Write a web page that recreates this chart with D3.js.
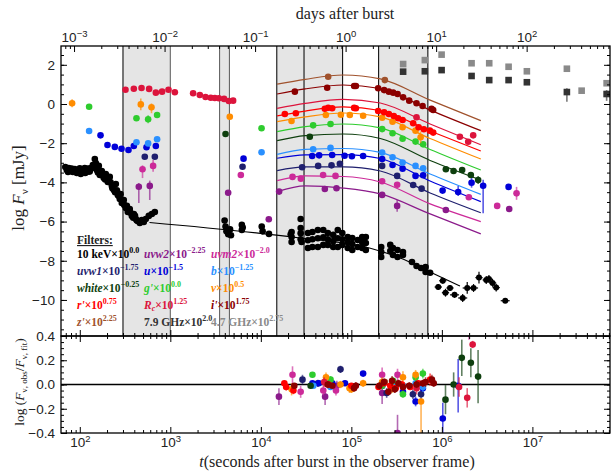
<!DOCTYPE html>
<html>
<head>
  <meta charset="utf-8">
  <title>Afterglow light curve</title>
  <script src="https://d3js.org/d3.v7.min.js"></script>
  <style>
    body { margin: 0; background: #fff; }
    svg { font-family: "Liberation Serif", "DejaVu Serif", serif; }
  </style>
</head>
<body>
<div id="chart"></div>
<script>

// ---- data (log10 t [s], log10 F [mJy], optional err down, err up) ----

const xrayEarly = [
  [1.856,-3.37],[1.878,-3.27],[1.901,-3.42],[1.923,-3.47],[1.945,-3.32],[1.967,-3.52],[1.989,-3.37],[2.011,-3.57],
  [2.033,-3.42],[2.055,-3.27],[2.077,-3.47],[2.099,-3.37],[2.122,-3.27],[2.144,-3.11],[2.166,-2.81],[2.177,-3.01],
  [2.188,-3.37],[2.210,-3.16],[2.221,-3.62],[2.243,-3.42],[2.265,-3.78],[2.287,-3.57],[2.309,-3.98],[2.331,-3.72],
  [2.354,-4.18],[2.376,-4.39],[2.398,-4.08],[2.420,-4.64],[2.442,-4.85],[2.464,-5.05],[2.486,-4.90],[2.508,-5.31],
  [2.530,-5.51],[2.552,-5.36],[2.575,-5.71],[2.597,-5.61],[2.619,-5.87],[2.641,-5.97],[2.663,-6.07],[2.685,-5.92],
  [2.707,-6.02],[2.729,-5.87],[2.762,-5.71],[2.796,-5.61],[2.829,-5.51],
  [1.84,-3.22],[1.87,-3.47],[1.91,-3.30],[1.96,-3.40],[2.00,-3.28],[2.02,-3.47],[2.06,-3.52],[2.09,-3.30],
  [2.11,-3.45],[2.15,-3.25],[2.20,-3.50],[2.25,-3.65],[2.28,-3.85],[2.32,-3.90],[2.34,-4.00],[2.36,-4.30],
  [2.39,-4.50],[2.41,-4.40],[2.43,-4.70],[2.45,-4.60],[2.47,-4.95],[2.49,-5.15],[2.52,-5.20],[2.54,-5.45],
  [2.56,-5.55],[2.59,-5.80],[2.61,-5.70],[2.63,-5.95]
];
const xrayMid = [
  [3.60,-5.95],[3.61,-6.25],[3.62,-6.50],[3.64,-6.65],[3.66,-6.40],[3.67,-6.70],
  [3.79,-6.17],[3.79,-6.43],[3.80,-6.30],[4.01,-6.25],[4.02,-6.50],[4.09,-6.63],
  [4.33,-6.65],[4.34,-6.53],[4.34,-6.79],[4.34,-7.04],[4.44,-5.87],[4.44,-6.33],[4.44,-6.60],[4.44,-6.90],[4.45,-7.04],
  [4.52,-6.58],[4.52,-6.95],[4.52,-7.35],[4.57,-6.53],[4.57,-6.90],[4.57,-7.30],[4.63,-6.43],[4.63,-6.85],[4.63,-7.30],
  [4.69,-6.43],[4.69,-6.80],[4.69,-7.19],[4.74,-6.58],[4.74,-6.90],[4.74,-7.19],[4.80,-6.68],[4.80,-7.00],[4.80,-7.30],
  [4.85,-6.43],[4.85,-6.85],[4.85,-7.30],[4.90,-6.58],[4.90,-6.90],[4.90,-7.19],[4.96,-6.79],[4.96,-7.05],[4.96,-7.35],
  [5.01,-6.84],[5.01,-7.15],[5.01,-7.45],[5.07,-6.94],[5.07,-7.30],[5.12,-6.79],[5.12,-7.05],[5.12,-7.35],
  [5.16,-6.79],[5.16,-7.10],[5.16,-7.45],
  [5.33,-7.30],[5.33,-7.55],[5.33,-7.81],[5.43,-7.19],[5.43,-7.50],[5.46,-7.35],[5.46,-7.70],[5.51,-7.45],[5.51,-7.81],
  [5.57,-7.55],[5.57,-7.70],[5.67,-8.06],[5.72,-8.27],[5.77,-8.37],[5.82,-8.32],[5.82,-8.57],[5.87,-8.61]
];
// late X-ray: log t, log F, x-err (dex), y-err (dex)
const xrayLate = [
  [5.96,-9.34,0.04,0.15],[6.01,-9.02,0.04,0.15],[6.04,-9.63,0.04,0.2],[6.09,-9.39,0.04,0.15],[6.14,-9.74,0.05,0.15],
  [6.23,-9.90,0.05,0.2],[6.28,-9.39,0.05,0.3],[6.35,-9.39,0.05,0.2],[6.41,-8.86,0.04,0.3],[6.49,-8.98,0.04,0.2],
  [6.52,-8.93,0.04,0.2],[6.56,-9.13,0.04,0.2],[6.60,-9.37,0.04,0.2],[6.70,-10.04,0.05,0.1]
];

const uvw2Data = [[2.652,-4.22,0.83,0.19],[2.773,-4.18,0.72,0.27],[3.639,-4.53],[4.088,-5.88],[4.202,-4.47],[4.707,-4.34],
  [4.836,-4.30],[5.340,-4.64],[5.506,-5.20,0.3,0.3],[6.044,-5.41],[6.744,-5.36]];
const uvm2Data = [[2.693,-3.33,0.45,0.2],[2.810,-3.16,0.3,0.3],[3.779,-3.62],[4.350,-3.72],[4.442,-3.81],[4.688,-3.62],
  [4.825,-3.67],[5.340,-3.94],[5.506,-4.12],[6.298,-4.76],[6.611,-5.20],[6.825,-4.56,0.33,0.33]];
const uvw1Data = [[2.718,-2.69],[2.829,-2.69],[3.798,-3.20],[4.456,-3.23],[4.633,-3.16],[4.781,-3.13],[4.873,-3.05],
  [5.340,-3.16],[5.506,-3.67],[5.683,-4.13],[5.776,-4.32]];
const uData = [[2.229,-1.60],[2.306,-2.09],[2.387,-2.19],[2.461,-2.28],[2.538,-2.35],[2.597,-2.14],[2.737,-2.21],
  [2.840,-2.14],[3.809,-2.79],[4.567,-2.65],[4.644,-2.62],[4.788,-2.60],[4.925,-2.64],[5.006,-2.67],[5.130,-2.65],
  [5.340,-2.81],[5.455,-3.11],[5.566,-3.30],[5.709,-3.67],[5.793,-3.64],[6.008,-4.42],[6.180,-4.49,0.2,0.3],
  [6.328,-4.02,0.25,0.25],[6.456,-4.17,1.4,0.3],[6.737,-4.23]];
const bData = [[2.103,-1.38],[2.626,-1.95],[2.755,-2.01],[2.854,-1.80],[4.008,-2.46],[4.578,-2.31],[4.770,-2.24],
  [5.340,-2.48],[5.455,-2.72],[5.566,-2.99],[5.709,-3.16],[5.793,-3.28]];
const whiteData = [[3.610,-1.53],[4.541,-1.67],[6.044,-3.33],[6.129,-3.42],[6.224,-3.37],[6.320,-3.62],[6.401,-3.88,0.2,0.2]];
const gData = [[2.103,-0.14],[2.626,-0.73],[2.755,-0.78,0.2,0.2],[2.854,-0.56],[4.008,-1.24],[4.578,-1.09],[4.770,-1.02],
  [5.340,-1.28],[5.455,-1.49],[5.566,-1.77],[5.709,-1.92],[5.793,-2.06]];
const vData = [[1.915,0.04,0.2,0.2],[2.674,-0.02,0.3,0.3],[2.792,-0.17,0.3,0.2],[3.657,-0.65],[4.339,-0.87],[4.718,-0.56],
  [4.884,-0.55],[4.983,-0.56],[5.130,-0.60],[5.340,-0.70],[5.455,-0.90],[5.566,-1.19],[5.709,-1.36],[5.765,-1.70,0.3,0.3]];
const rData = [[4.265,-0.51],[4.387,-0.47],[4.707,-0.24],[4.744,-0.19],[4.788,-0.22],[5.031,-0.20],[5.050,-0.22],
  [5.296,-0.36],[5.362,-0.42],[5.414,-0.51],[5.469,-0.61],[5.517,-0.73],[5.566,-0.82],[5.683,-0.98],[5.743,-1.19],
  [5.801,-1.29],[5.867,-1.36],[5.904,-1.46]];
const rcData = [[2.505,0.73],[2.597,0.78],[2.682,0.82],[2.766,0.77],[2.840,0.58],[2.909,0.63],[2.980,0.73],[3.050,0.60],
  [3.252,0.55],[3.326,0.46],[3.389,0.36],[3.447,0.32],[3.492,0.31],[3.536,0.29],[3.594,0.26],[3.646,0.15],[3.694,0.17],
  [5.720,-0.68],[6.199,-1.67],[6.291,-1.93],[6.346,-1.60]];
const iData = [[4.376,0.63],[4.733,0.83],[5.031,0.92],[5.050,0.92],[5.296,0.80],[5.362,0.71],[5.414,0.63],[5.462,0.58],
  [5.511,0.51],[5.572,0.34],[5.639,0.17],[5.720,0.04],[5.787,-0.10],[5.886,-0.25],[5.904,-0.31]];
const zData = [[4.744,1.39],[5.370,1.22]];
const radio79 = [[5.572,1.65],[5.812,1.67],[5.997,1.73],[6.328,1.43],[6.523,1.22],[6.737,1.22],[6.939,1.11],
  [7.381,0.61,0.5,0.2],[7.820,0.51,0.35,0.2]];
const radio47 = [[5.572,2.04],[5.812,2.24],[5.997,2.52],[6.328,2.08],[6.523,2.08],[6.737,1.90],[6.939,1.67],
  [7.381,1.80],[7.544,0.68],[7.820,1.06]];

// model curves (knots)
const modelT = [4.18, 4.49, 4.91, 5.32, 5.87, 6.43];
const modelZ = [1.01, 1.26, 1.48, 1.28, 0.20, -0.85];
const modelI = [0.51, 0.77, 0.97, 0.79, -0.31, -1.36];
const modelRc = [-0.22, 0.03, 0.24, 0.05, -1.02, -2.08];
const modelR = [-0.61, -0.36, -0.15, -0.33, -1.38, -2.40];
const modelV = [-0.90, -0.66, -0.46, -0.66, -1.76, -2.81];
const modelG = [-1.41, -1.15, -1.02, -1.22, -2.32, -3.37];
const modelWhite = [-1.87, -1.61, -1.53, -1.76, -2.88, -3.88];
const modelB = [-2.57, -2.32, -2.27, -2.47, -3.57, -4.61];
const modelU = [-2.77, -2.60, -2.58, -2.78, -3.93, -4.98];
const modelUvw1 = [-3.40, -3.21, -3.21, -3.42, -4.54, -5.55];
const modelUvm2 = [-3.91, -3.67, -3.70, -3.98, -5.10, -6.00];
const modelUvw2 = [-4.47, -4.18, -4.29, -4.59, -5.61, -6.63];
const xrayModelT = [2.77, 4.43, 5.20, 5.54, 5.87, 6.20];
const xrayModelF = [-6.05, -6.84, -7.35, -7.86, -8.57, -9.29];

// residuals: log t, residual, err down, err up
const resR = [[4.26,0.01,0.02],[4.28,-0.02,0.03],[4.36,-0.05,0.03],[4.75,0.00,0.02],[5.00,-0.01,0.02],[5.30,-0.02,0.02],
  [5.36,0.01,0.02],[5.43,-0.01,0.02],[5.49,-0.03,0.02],[5.56,0.00,0.03],[5.65,-0.02,0.02],[5.74,0.01,0.02],[5.87,0.04,0.05]];
const resI = [[4.37,-0.01,0.02],[4.74,0.00,0.03],[4.79,-0.01,0.02],[5.03,-0.03,0.03],[5.05,-0.01,0.03],[5.31,-0.01,0.03],
  [5.36,0.02,0.03],[5.41,-0.06,0.03],[5.45,0.03,0.04],[5.48,-0.04,0.03],[5.52,0.01,0.03],[5.57,-0.02,0.03],
  [5.64,-0.01,0.03],[5.72,0.00,0.03],[5.79,0.01,0.03],[5.82,0.02,0.04],[5.89,0.04,0.04],[5.91,0.01,0.03]];
const resZ = [[4.74,0.00,0.02],[5.37,0.02,0.03]];
const resRc = [[4.70,0.02,0.04],[5.72,-0.03,0.05],[6.19,-0.02,0.08],[6.28,-0.11,0.08],[6.34,0.33,0.03]];
const resV = [[4.34,-0.04,0.05],[4.72,0.06,0.04],[4.88,0.00,0.03],[4.98,-0.03,0.04],[5.00,-0.04,0.03],[5.13,0.01,0.03],
  [5.34,0.02,0.04],[5.45,-0.03,0.04],[5.57,0.06,0.05],[5.71,0.08,0.04],[5.77,-0.14,0.28,0.02]];
const resG = [[4.57,0.08,0.02],[4.77,0.04,0.03],[5.34,-0.01,0.03],[5.46,0.03,0.03],[5.57,-0.08,0.03],[5.71,0.06,0.04],[5.79,0.09,0.04]];
const resWhite = [[4.55,-0.01,0.02],[6.04,-0.125,0.12],[6.13,0.00,0.10],[6.22,0.22,0.15],[6.32,0.18,0.12],[6.40,0.065,0.22]];
const resB = [[4.58,-0.01,0.02],[4.77,-0.02,0.02],[5.34,0.00,0.02],[5.46,0.01,0.03],[5.57,-0.01,0.03],[5.71,0.01,0.03],[5.79,-0.02,0.04]];
const resU = [[4.57,0.01,0.02],[4.64,0.01,0.02],[4.79,0.01,0.02],[4.93,0.01,0.02],[5.13,0.09,0.02],[5.34,-0.01,0.02],
  [5.46,0.00,0.03],[5.57,-0.06,0.03],[5.71,-0.14,0.04],[5.79,-0.03,0.03],[6.01,-0.28,0.13],[6.18,-0.01,0.22]];
const resUvw1 = [[4.46,0.04,0.04],[4.63,0.01,0.03],[4.78,0.00,0.03],[4.88,0.125,0.03],[5.34,-0.01,0.03],[5.39,-0.07,0.04],
  [5.68,-0.08,0.04],[5.77,-0.08,0.04]];
const resUvm2 = [[4.35,0.08,0.07],[4.44,-0.06,0.05],[4.69,-0.05,0.04],[4.83,-0.05,0.04],[5.34,0.08,0.06],[5.51,0.08,0.05],[6.30,0.45,0.08]];
const resUvw2 = [[4.20,-0.10,0.07],[4.71,-0.10,0.07],[4.84,-0.01,0.04],[5.34,-0.07,0.09],[5.51,-0.40,0.15]];

// shaded observing windows and their edges (seconds)
const windows = [[300,1000],[3500,4500],[15000,80000],[200000,700000]];
const windowEdges = [300,1000,3500,4500,15000,30000,80000,200000,700000];

// tick labels
const secTicks = [1e2,1e3,1e4,1e5,1e6,1e7];
const dayTicks = [1e-3,1e-2,1e-1,1,10,100];
const fluxTicks = [-10,-8,-6,-4,-2,0,2];
const resTicks = [-0.4,-0.2,0,0.2,0.4];

// legend
const filterNames = ["10 keV","uvw2","uvm2","uvw1","u","b","white","g'","v","r'","Rc","i'","z'","7.9 GHz","4.7 GHz"];
const filterScales = ["0.0","−2.25","−2.0","−1.75","−1.5","−1.25","−0.25","0.0","0.5","0.75","1.25","1.75","2.25","2.0","2.75"];
const filterKeys = ["xray","uvw2","uvm2","uvw1","u","b","white","g","v","r","Rc","i","z","r79","r47"];

const colors = {
  xray: "#000000", uvw2: "#8b1a8b", uvm2: "#cc2a99", uvw1: "#1f1f6e", u: "#0000d8", b: "#2a90ff",
  white: "#0e3f0e", g: "#2ecc2e", v: "#ff8c00", r: "#ff0000", Rc: "#dc143c", i: "#8b0000", z: "#a0522d",
  r79: "#333333", r47: "#8a8a8a"
};

// ---- layout ----
const W = 611, H = 475;
const L0 = 61, R0 = 610, T0 = 46, M0 = 336, B0 = 433;

const svg = d3.select("#chart").append("svg").attr("width", W).attr("height", H);

const x = d3.scaleLog().domain([62, 7.2e7]).range([L0, R0]);
const xDays = d3.scaleLog().domain([62 / 86400, 7.2e7 / 86400]).range([L0, R0]);
const y = d3.scaleLinear().domain([-11.84, 2.96]).range([M0, T0]);
const yRes = d3.scaleLinear().domain([-0.4, 0.4]).range([B0, M0]);
const T = l => Math.pow(10, l);

const defs = svg.append("defs");
defs.append("clipPath").attr("id", "clipTop").append("rect")
  .attr("x", L0).attr("y", T0).attr("width", R0 - L0).attr("height", M0 - T0);
defs.append("clipPath").attr("id", "clipBot").append("rect")
  .attr("x", L0).attr("y", M0).attr("width", R0 - L0).attr("height", B0 - M0);

const gTop = svg.append("g").attr("clip-path", "url(#clipTop)");
const gBot = svg.append("g").attr("clip-path", "url(#clipBot)");

// shaded windows
gTop.selectAll("rect.win").data(windows).join("rect")
  .attr("x", d => x(d[0])).attr("y", T0)
  .attr("width", d => x(d[1]) - x(d[0])).attr("height", M0 - T0)
  .attr("fill", "#e5e5e5");
gTop.selectAll("line.edge").data(windowEdges).join("line")
  .attr("x1", d => x(d)).attr("x2", d => x(d)).attr("y1", T0).attr("y2", M0)
  .attr("stroke", d => (d === 1000 || d === 3500 || d === 4500) ? "#666" : "#111")
  .attr("stroke-width", 1.1);

// model lines
const line = d3.line().x(d => x(T(d[0]))).y(d => y(d[1])).curve(d3.curveMonotoneX);
const models = [
  ["z", modelZ], ["i", modelI], ["Rc", modelRc], ["r", modelR], ["v", modelV], ["g", modelG],
  ["white", modelWhite], ["b", modelB], ["u", modelU], ["uvw1", modelUvw1], ["uvm2", modelUvm2], ["uvw2", modelUvw2]
];
models.forEach(([k, vals]) => {
  gTop.append("path").datum(modelT.map((t, j) => [t, vals[j]]))
    .attr("fill", "none").attr("stroke", colors[k]).attr("stroke-width", 1.2).attr("d", line);
});
gTop.append("path").datum(xrayModelT.map((t, j) => [t, xrayModelF[j]]))
  .attr("fill", "none").attr("stroke", "#000").attr("stroke-width", 1.1).attr("d", line);

// data points with error bars
function drawPoints(g, data, color, ys, shape) {
  const withErr = data.filter(d => d.length > 2);
  g.selectAll(null).data(withErr).join("line")
    .attr("x1", d => x(T(d[0]))).attr("x2", d => x(T(d[0])))
    .attr("y1", d => ys(d[1] - d[2])).attr("y2", d => ys(d[1] + (d[3] !== undefined ? d[3] : d[2])))
    .attr("stroke", color).attr("stroke-width", 1.6).attr("opacity", 0.65);
  if (shape === "square") {
    g.selectAll(null).data(data).join("rect")
      .attr("x", d => x(T(d[0])) - 3.3).attr("y", d => ys(d[1]) - 3.3)
      .attr("width", 6.6).attr("height", 6.6).attr("fill", color);
  } else {
    g.selectAll(null).data(data).join("circle")
      .attr("cx", d => x(T(d[0]))).attr("cy", d => ys(d[1]))
      .attr("r", 3.3).attr("fill", color);
  }
}

drawPoints(gTop, radio47, colors.r47, y, "square");
drawPoints(gTop, radio79, colors.r79, y, "square");

drawPoints(gTop, xrayEarly, colors.xray, y);
drawPoints(gTop, xrayMid, colors.xray, y);
gTop.selectAll(null).data(xrayLate).join("line")
  .attr("x1", d => x(T(d[0] - d[2]))).attr("x2", d => x(T(d[0] + d[2])))
  .attr("y1", d => y(d[1])).attr("y2", d => y(d[1])).attr("stroke", "#000").attr("stroke-width", 1.2);
gTop.selectAll(null).data(xrayLate).join("line")
  .attr("x1", d => x(T(d[0]))).attr("x2", d => x(T(d[0])))
  .attr("y1", d => y(d[1] - d[3])).attr("y2", d => y(d[1] + d[3])).attr("stroke", "#000").attr("stroke-width", 1.2);
gTop.selectAll(null).data(xrayLate).join("circle")
  .attr("cx", d => x(T(d[0]))).attr("cy", d => y(d[1])).attr("r", 3).attr("fill", "#000");

const bands = [
  ["uvw2", uvw2Data, resUvw2], ["uvm2", uvm2Data, resUvm2], ["uvw1", uvw1Data, resUvw1], ["u", uData, resU],
  ["b", bData, resB], ["white", whiteData, resWhite], ["g", gData, resG], ["v", vData, resV],
  ["z", zData, resZ], ["Rc", rcData, resRc], ["r", rData, resR], ["i", iData, resI]
];
bands.forEach(([k, d]) => drawPoints(gTop, d, colors[k], y));

// residual panel
gBot.append("line").attr("x1", L0).attr("x2", R0).attr("y1", yRes(0)).attr("y2", yRes(0))
  .attr("stroke", "#000").attr("stroke-width", 1.4);
bands.forEach(([k, , r]) => drawPoints(gBot, r, colors[k], yRes));

// ---- axes ----
function logMinors(scale) {
  const [a, b] = scale.domain(), out = [];
  for (let e = Math.floor(Math.log10(a)); e <= Math.ceil(Math.log10(b)); e++)
    for (let m = 2; m < 10; m++) { const v = m * Math.pow(10, e); if (v >= a && v <= b) out.push(v); }
  return out;
}
function linMinors(scale, step) {
  const [a, b] = scale.domain(), out = [];
  for (let v = Math.ceil(a / step) * step; v <= b + 1e-9; v += step) out.push(+v.toFixed(4));
  return out;
}
function powLabels(g) {
  g.selectAll(".tick text").each(function(d) {
    const e = Math.round(Math.log10(d));
    const t = d3.select(this).text(null);
    t.append("tspan").text("10");
    t.append("tspan").attr("dy", "-0.5em").style("font-size", "9.5px").text(String(e).replace("-", "−"));
  });
}
function tidy(g) {
  g.select(".domain").remove();
  g.selectAll(".tick line").attr("stroke", "#000").attr("stroke-width", 1);
  g.selectAll(".tick text").attr("fill", "#222").style("font-size", "13.5px");
}
function addAxis(axis, tx, ty) {
  return svg.append("g").attr("transform", `translate(${tx},${ty})`).call(axis).call(tidy);
}

// top (days)
addAxis(d3.axisTop(xDays).tickValues(dayTicks).tickSizeInner(-6).tickSizeOuter(0).tickPadding(4), 0, T0).call(powLabels);
addAxis(d3.axisTop(xDays).tickValues(logMinors(xDays)).tickSize(-3).tickFormat(""), 0, T0);
// shared boundary between panels
addAxis(d3.axisBottom(x).tickValues(secTicks).tickSize(-6).tickFormat(""), 0, M0);
addAxis(d3.axisBottom(x).tickValues(logMinors(x)).tickSize(-3).tickFormat(""), 0, M0);
addAxis(d3.axisTop(x).tickValues(secTicks).tickSize(-6).tickFormat(""), 0, M0);
addAxis(d3.axisTop(x).tickValues(logMinors(x)).tickSize(-3).tickFormat(""), 0, M0);
// bottom (seconds)
addAxis(d3.axisBottom(x).tickValues(secTicks).tickSizeInner(-6).tickSizeOuter(0).tickPadding(4), 0, B0).call(powLabels);
addAxis(d3.axisBottom(x).tickValues(logMinors(x)).tickSize(-3).tickFormat(""), 0, B0);
// flux axes
addAxis(d3.axisLeft(y).tickValues(fluxTicks).tickSizeInner(-6).tickSizeOuter(0).tickPadding(6), L0, 0);
addAxis(d3.axisLeft(y).tickValues(linMinors(y, 0.5)).tickSize(-3).tickFormat(""), L0, 0);
addAxis(d3.axisRight(y).tickValues(fluxTicks).tickSize(-6).tickFormat(""), R0, 0);
addAxis(d3.axisRight(y).tickValues(linMinors(y, 0.5)).tickSize(-3).tickFormat(""), R0, 0);
// residual axes
addAxis(d3.axisLeft(yRes).tickValues(resTicks).tickSizeInner(-6).tickSizeOuter(0).tickPadding(6).tickFormat(d3.format(".1f")), L0, 0);
addAxis(d3.axisLeft(yRes).tickValues(linMinors(yRes, 0.05)).tickSize(-3).tickFormat(""), L0, 0);
addAxis(d3.axisRight(yRes).tickValues(resTicks).tickSize(-6).tickFormat(""), R0, 0);
addAxis(d3.axisRight(yRes).tickValues(linMinors(yRes, 0.05)).tickSize(-3).tickFormat(""), R0, 0);

// frames
svg.append("rect").attr("x", L0).attr("y", T0).attr("width", R0 - L0).attr("height", M0 - T0)
  .attr("fill", "none").attr("stroke", "#000").attr("stroke-width", 1.3);
svg.append("rect").attr("x", L0).attr("y", M0).attr("width", R0 - L0).attr("height", B0 - M0)
  .attr("fill", "none").attr("stroke", "#000").attr("stroke-width", 1.3);

// ---- titles ----
svg.append("text").attr("x", 345).attr("y", 19).attr("text-anchor", "middle")
  .style("font-size", "16px").attr("fill", "#222").text("days after burst");

const xt = svg.append("text").attr("x", 337).attr("y", 467).attr("text-anchor", "middle")
  .style("font-size", "16px").attr("fill", "#222");
xt.append("tspan").attr("font-style", "italic").text("t");
xt.append("tspan").text("(seconds after burst in the observer frame)");

const yt = svg.append("text").attr("transform", "translate(24,188) rotate(-90)").attr("text-anchor", "middle")
  .style("font-size", "17px").attr("fill", "#222");
yt.append("tspan").text("log ");
yt.append("tspan").attr("font-style", "italic").text("F");
yt.append("tspan").attr("dy", 4).style("font-size", "11px").text("ν");
yt.append("tspan").attr("dy", -4).text(" [mJy]");

const rt = svg.append("text").attr("transform", "translate(24,382) rotate(-90)").attr("text-anchor", "middle")
  .style("font-size", "13.5px").attr("fill", "#222");
rt.append("tspan").text("log (");
rt.append("tspan").attr("font-style", "italic").text("F");
rt.append("tspan").attr("dy", 3).style("font-size", "9px").text("ν, obs");
rt.append("tspan").attr("dy", -3).text("/");
rt.append("tspan").attr("font-style", "italic").text("F");
rt.append("tspan").attr("dy", 3).style("font-size", "9px").text("ν, fit");
rt.append("tspan").attr("dy", -3).text(")");

// ---- legend ----
const leg = svg.append("g").style("font-size", "11.5px").attr("font-weight", "bold");
leg.append("text").attr("x", 77).attr("y", 244).attr("fill", "#222")
  .style("text-decoration", "underline").text("Filters:");
filterNames.forEach((name, i) => {
  const row = Math.floor(i / 3), col = i % 3;
  const t = leg.append("text").attr("x", 77 + col * 67).attr("y", 257.5 + row * 17.2)
    .attr("fill", colors[filterKeys[i]]);
  const italic = !(name.includes("keV") || name.includes("GHz"));
  if (name === "Rc") {
    t.append("tspan").attr("font-style", "italic").text("R");
    t.append("tspan").attr("dy", 2).style("font-size", "8px").attr("font-style", "italic").text("c");
    t.append("tspan").attr("dy", -2).text("×10");
  } else {
    t.append("tspan").attr("font-style", italic ? "italic" : "normal").text(name);
    t.append("tspan").text("×10");
  }
  t.append("tspan").attr("dy", -5).style("font-size", "8px").text(filterScales[i]);
});

</script>
</body>
</html>
